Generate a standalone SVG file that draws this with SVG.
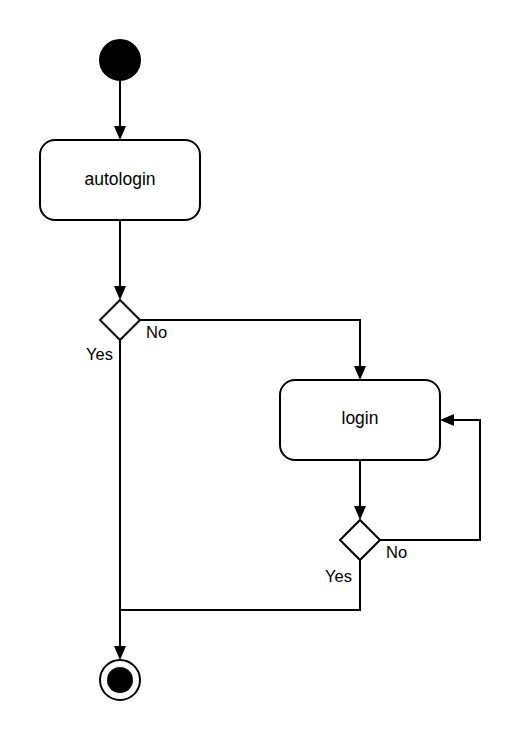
<svg xmlns="http://www.w3.org/2000/svg" width="520" height="740" viewBox="0 0 520 740">
<style>
.node{fill:#fff;stroke:#000;stroke-width:2}
.solid{fill:#000;stroke:#000;stroke-width:2}
.edge{fill:none;stroke:#000;stroke-width:2}
.lbl{font-family:"Liberation Sans",Arial,sans-serif;font-size:17.5px;fill:#000}
.elbl{font-family:"Liberation Sans",Arial,sans-serif;font-size:16.5px;fill:#000}
</style>
<defs>
<marker id="arr" viewBox="0 0 14 12" refX="2" refY="6" markerWidth="14" markerHeight="12" markerUnits="userSpaceOnUse" orient="auto">
<path d="M0,0 L14,6 L0,12 Z" fill="#000"/>
</marker>
</defs>
<rect width="520" height="740" fill="#fff"/>
<g id="connectors">
<path class="edge" d="M120,80 V128" marker-end="url(#arr)"/>
<path class="edge" d="M120,220 V288" marker-end="url(#arr)"/>
<path class="edge" d="M140,320 H360 V368" marker-end="url(#arr)"/>
<path class="edge" d="M120,340 V648" marker-end="url(#arr)"/>
<path class="edge" d="M360,460 V508" marker-end="url(#arr)"/>
<path class="edge" d="M380,540 H480 V420 H452" marker-end="url(#arr)"/>
<path class="edge" d="M360,560 V610 H120"/>
<text class="elbl" x="146" y="338">No</text>
<text class="elbl" x="113" y="360" text-anchor="end">Yes</text>
<text class="elbl" x="386" y="558">No</text>
<text class="elbl" x="352" y="582" text-anchor="end">Yes</text>
</g>
<g id="start">
<circle class="solid" cx="120" cy="60" r="20"/>
</g>
<g id="autologin">
<rect class="node" x="40" y="140" width="160" height="80" rx="15" ry="15"/>
<text class="lbl" x="120" y="185" text-anchor="middle">autologin</text>
</g>
<g id="decision1">
<polygon class="node" points="120,300 140,320 120,340 100,320"/>
</g>
<g id="login">
<rect class="node" x="280" y="380" width="160" height="80" rx="15" ry="15"/>
<text class="lbl" x="360" y="424" text-anchor="middle">login</text>
</g>
<g id="decision2">
<polygon class="node" points="360,520 380,540 360,560 340,540"/>
</g>
<g id="end">
<circle cx="120" cy="680" r="20" fill="#fff" stroke="#000" stroke-width="2"/>
<circle cx="120" cy="680" r="13" fill="#000"/>
</g>
</svg>
